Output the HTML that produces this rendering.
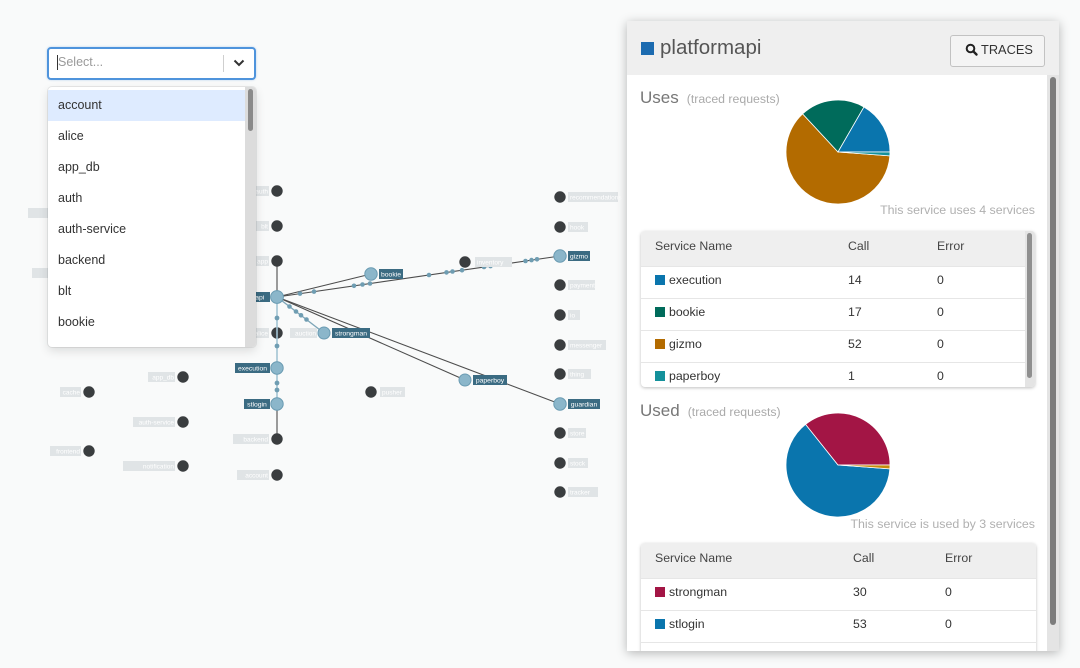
<!DOCTYPE html>
<html><head><meta charset="utf-8">
<style>
*{margin:0;padding:0;box-sizing:border-box}
body{width:1080px;height:668px;overflow:hidden;background:#f9fafa;font-family:"Liberation Sans",Arial,sans-serif;position:relative}
.a{position:absolute}
.item{position:absolute;left:0;width:197px;height:31px;line-height:31px;padding-left:10px;font-size:12.5px;color:#333}
.tbl{position:absolute;background:#fff;border-radius:4px;box-shadow:0 1px 3px rgba(0,0,0,.25);overflow:hidden}
.th{position:absolute;left:0;top:0;width:100%;height:35px;background:#efefef}
.tx{position:absolute;font-size:12.3px;color:#333;white-space:nowrap}
.row{position:absolute;left:0;width:100%;height:32px;border-top:1px solid #e6e6e6}
.sw{display:inline-block;width:10px;height:10px;vertical-align:-1px;margin-right:4px}
</style></head><body>

<svg class="a" style="left:0;top:0" width="1080" height="668" xmlns="http://www.w3.org/2000/svg">
  <!-- edges -->
  <g stroke="#4d4d4d" stroke-width="1.1" fill="none">
    <line x1="277" y1="261" x2="277" y2="297"/>
    <line x1="277" y1="404" x2="277" y2="439"/>
    <line x1="277" y1="297" x2="371" y2="274"/>
    <line x1="277" y1="297" x2="560" y2="256"/>
    <line x1="277" y1="297" x2="465" y2="380"/>
    <line x1="277" y1="297" x2="560" y2="404"/>
  </g>
  <line x1="277" y1="297" x2="324" y2="333" stroke="#7ea6b8" stroke-width="1.4"/>
  <!-- dark nodes -->
  <g fill="#3a3d3f">
    <circle cx="277" cy="191" r="5.7"/><circle cx="277" cy="226" r="5.7"/><circle cx="277" cy="261" r="5.7"/>
    <circle cx="277" cy="333" r="5.7"/><circle cx="277" cy="439" r="5.7"/><circle cx="277" cy="475" r="5.7"/>
    <circle cx="183" cy="377" r="5.7"/><circle cx="183" cy="422" r="5.7"/><circle cx="183" cy="466" r="5.7"/>
    <circle cx="89" cy="392" r="5.7"/><circle cx="89" cy="451" r="5.7"/>
    <circle cx="465" cy="262" r="5.7"/><circle cx="371" cy="392" r="5.7"/>
    <circle cx="560" cy="197" r="5.7"/><circle cx="560" cy="227" r="5.7"/><circle cx="560" cy="285" r="5.7"/>
    <circle cx="560" cy="315" r="5.7"/><circle cx="560" cy="345" r="5.7"/><circle cx="560" cy="374" r="5.7"/>
    <circle cx="560" cy="433" r="5.7"/><circle cx="560" cy="463" r="5.7"/><circle cx="560" cy="492" r="5.7"/>
  </g>
  <line x1="277" y1="297" x2="277" y2="404" stroke="#a3c4d3" stroke-width="1.6"/>
  <!-- small dots -->
  <g fill="#6f9db2">
    <circle cx="277" cy="318" r="2.4"/><circle cx="277" cy="346" r="2.4"/><circle cx="277" cy="383" r="2.4"/><circle cx="277" cy="390" r="2.4"/>
    <circle cx="300" cy="293.6" r="2.3"/><circle cx="314" cy="291.6" r="2.3"/><circle cx="354" cy="285.8" r="2.3"/><circle cx="362.5" cy="284.5" r="2.3"/><circle cx="370" cy="283.5" r="2.3"/>
    <circle cx="429" cy="275" r="2.3"/><circle cx="446.5" cy="272.4" r="2.3"/><circle cx="452.5" cy="271.5" r="2.3"/><circle cx="462" cy="270.2" r="2.3"/>
    <circle cx="484" cy="267" r="2.3"/><circle cx="490.5" cy="266.1" r="2.3"/><circle cx="507" cy="263.7" r="2.3"/><circle cx="525.5" cy="261" r="2.3"/><circle cx="531.5" cy="260.1" r="2.3"/><circle cx="537" cy="259.3" r="2.3"/>
    <circle cx="289.5" cy="306.5" r="2.3"/><circle cx="296" cy="311.5" r="2.3"/><circle cx="301" cy="315.3" r="2.3"/><circle cx="306.5" cy="319.5" r="2.3"/>
  </g>
  <!-- blue nodes -->
  <g fill="#8bb6ca" stroke="#6a9bb2" stroke-width="1">
    <circle cx="277" cy="297" r="6.4"/><circle cx="277" cy="368" r="6.2"/><circle cx="277" cy="404" r="6.2"/>
    <circle cx="324" cy="333" r="6"/><circle cx="371" cy="274" r="6.2"/><circle cx="465" cy="380" r="6"/>
    <circle cx="560" cy="256" r="6.2"/><circle cx="560" cy="404" r="6.2"/>
  </g>
  <!-- light labels -->
  <g fill="#e0e4e6">
    <rect x="245" y="186" width="24" height="10"/><rect x="245" y="221" width="24" height="10"/><rect x="245" y="256" width="24" height="10"/>
    <rect x="245" y="328" width="24" height="10"/><rect x="233" y="434" width="36" height="10"/><rect x="237" y="470" width="32" height="10"/>
    <rect x="148" y="372" width="27" height="10"/><rect x="133" y="417" width="42" height="10"/><rect x="123" y="461" width="52" height="10"/>
    <rect x="60" y="387" width="21" height="10"/><rect x="50" y="446" width="31" height="10"/>
    <rect x="28" y="208" width="28" height="10"/><rect x="32" y="268" width="24" height="10"/>
    <rect x="290" y="328" width="27" height="10"/>
    <rect x="475" y="257" width="37" height="10"/><rect x="380" y="387" width="25" height="10"/>
    <rect x="568" y="192" width="50" height="10"/><rect x="568" y="222" width="20" height="10"/><rect x="568" y="280" width="27" height="10"/>
    <rect x="568" y="310" width="12" height="10"/><rect x="568" y="340" width="38" height="10"/><rect x="568" y="369" width="23" height="10"/>
    <rect x="568" y="428" width="18" height="10"/><rect x="568" y="458" width="20" height="10"/><rect x="568" y="487" width="30" height="10"/>
  </g>
  <g fill="#ffffff" font-family="Liberation Sans, sans-serif" font-size="6.5" text-anchor="end">
    <text x="268" y="193.5">auth</text><text x="268" y="228.5">blt</text><text x="268" y="263.5">app</text>
    <text x="268" y="335.5">alice</text><text x="268" y="441.5">backend</text><text x="268" y="477.5">account</text>
    <text x="174" y="379.5">app_db</text><text x="174" y="424.5">auth-service</text><text x="174" y="468.5">notification</text>
    <text x="80" y="394.5">cache</text><text x="80" y="453.5">frontend</text>
    <text x="316" y="335.5">auction</text>
  </g>
  <g fill="#ffffff" font-family="Liberation Sans, sans-serif" font-size="6.5">
    <text x="477" y="264.5">inventory</text><text x="382" y="394.5">pusher</text>
    <text x="570" y="199.5">recommendations</text><text x="570" y="229.5">hook</text><text x="570" y="287.5">payment</text>
    <text x="570" y="317.5">io</text><text x="570" y="347.5">messenger</text><text x="570" y="376.5">thing</text>
    <text x="570" y="435.5">store</text><text x="570" y="465.5">stock</text><text x="570" y="494.5">tracker</text>
  </g>
  <!-- dark labels -->
  <g fill="#3b6b82">
    <rect x="225" y="292" width="45" height="10"/><rect x="235" y="363" width="35" height="10"/><rect x="244" y="399" width="26" height="10"/>
    <rect x="332" y="328" width="38" height="10"/><rect x="379" y="269" width="24" height="10"/><rect x="473" y="375" width="34" height="10"/>
    <rect x="568" y="251" width="22" height="10"/><rect x="568" y="399" width="32" height="10"/>
  </g>
  <g fill="#ffffff" font-family="Liberation Sans, sans-serif" font-size="6.8" text-anchor="middle">
    <text x="247.5" y="299.5">platformapi</text><text x="252.5" y="370.5">execution</text><text x="257" y="406.5">stlogin</text>
    <text x="351" y="335.5">strongman</text><text x="391" y="276.5">bookie</text><text x="490" y="382.5">paperboy</text>
    <text x="579" y="258.5">gizmo</text><text x="584" y="406.5">guardian</text>
  </g>
</svg>

<!-- dropdown -->
<div class="a" style="left:47px;top:47px;width:209px;height:33px;background:#fff;border:2px solid #4f94dc;border-radius:4px;box-shadow:0 0 2px rgba(79,148,220,.4)"></div>
<div class="a" style="left:57px;top:55px;width:1px;height:15px;background:#333"></div>
<div class="a" style="left:58px;top:54px;font-size:12.5px;line-height:16px;color:#9a9a9a">Select...</div>
<div class="a" style="left:223px;top:55px;width:1px;height:17px;background:#cfcfcf"></div>
<svg class="a" style="left:232px;top:57px" width="14" height="12"><polyline points="2.5,3.5 7,8 11.5,3.5" fill="none" stroke="#333" stroke-width="2"/></svg>

<div class="a" style="left:48px;top:87px;width:208px;height:260px;background:#fff;border-radius:4px;box-shadow:0 0 0 1px rgba(0,0,0,.07),0 4px 10px rgba(0,0,0,.12);overflow:hidden">
  <div class="item" style="top:3px;background:#deebff">account</div>
  <div class="item" style="top:34px">alice</div>
  <div class="item" style="top:65px">app_db</div>
  <div class="item" style="top:96px">auth</div>
  <div class="item" style="top:127px">auth-service</div>
  <div class="item" style="top:158px">backend</div>
  <div class="item" style="top:189px">blt</div>
  <div class="item" style="top:220px">bookie</div>
  <div class="a" style="left:197px;top:0;width:11px;height:260px;background:#dcdcdc"></div>
  <div class="a" style="left:200px;top:2px;width:5px;height:42px;background:#8a8a8a;border-radius:3px"></div>
</div>

<!-- right card -->
<div class="a" style="left:627px;top:21px;width:432px;height:630px;background:#fff;box-shadow:0 2px 10px rgba(0,0,0,.28);overflow:hidden">
  <div class="a" style="left:0;top:0;width:432px;height:54px;background:#efefef"></div>
  <div class="a" style="left:14px;top:21px;width:13px;height:13px;background:#1c6bb0"></div>
  <div class="a" style="left:33px;top:15px;font-size:20.5px;line-height:24px;color:#555">platformapi</div>
  <div class="a" style="left:323px;top:14px;width:95px;height:32px;border:1px solid #c2c2c2;border-radius:3px;background:#f4f4f4"></div>
  <svg class="a" style="left:338px;top:22px" width="14" height="14"><circle cx="5.5" cy="5.5" r="3.8" fill="none" stroke="#222" stroke-width="2"/><line x1="8.3" y1="8.3" x2="11.5" y2="11.5" stroke="#222" stroke-width="2.4" stroke-linecap="round"/></svg>
  <div class="a" style="left:354px;top:20px;font-size:12.8px;line-height:18px;color:#333">TRACES</div>

  <!-- body scrollbar -->
  <div class="a" style="left:420px;top:54px;width:12px;height:576px;background:#e4e4e4"></div>
  <div class="a" style="left:423px;top:56px;width:6px;height:548px;background:#7d7d7d;border-radius:3px"></div>

  <div class="a" style="left:13px;top:67px;line-height:20px;white-space:nowrap"><span style="font-size:17px;color:#777">Uses</span><span style="font-size:12.3px;color:#aaa;margin-left:8px">(traced requests)</span></div>
  <div class="a" style="right:24px;top:181px;font-size:12.4px;line-height:16px;color:#b0b0b0;white-space:nowrap">This service uses 4 services</div>

  <div class="a" style="left:13px;top:380px;line-height:20px;white-space:nowrap"><span style="font-size:17px;color:#777">Used</span><span style="font-size:12.3px;color:#aaa;margin-left:8px">(traced requests)</span></div>
  <div class="a" style="right:24px;top:495px;font-size:12.4px;line-height:16px;color:#b0b0b0;white-space:nowrap">This service is used by 3 services</div>

  <svg class="a" style="left:-627px;top:-21px" width="1080" height="668">
    <g stroke="#fff" stroke-width="0.8">
      <path d="M838,152 L889.85,155.89 A52,52 0 1 1 802.63,113.88 Z" fill="#b36b00"/>
      <path d="M838,152 L802.63,113.88 A52,52 0 0 1 864,106.97 Z" fill="#006b5b"/>
      <path d="M838,152 L864,106.97 A52,52 0 0 1 890,152 Z" fill="#0a75ad"/>
      <path d="M838,152 L890,152 A52,52 0 0 1 889.85,155.89 Z" fill="#14919b"/>
      <path d="M838,465 L889.85,468.89 A52,52 0 1 1 805.58,424.35 Z" fill="#0a75ad"/>
      <path d="M838,465 L805.58,424.35 A52,52 0 0 1 890,465 Z" fill="#a31545"/>
      <path d="M838,465 L890,465 A52,52 0 0 1 889.85,468.89 Z" fill="#c58a0c"/>
    </g>
  </svg>

  <!-- table 1 -->
  <div class="tbl" style="left:14px;top:210px;width:394px;height:156px">
    <div class="th"></div>
    <div class="tx" style="left:14px;top:0;line-height:31px;color:#444">Service Name</div>
    <div class="tx" style="left:207px;top:0;line-height:31px;color:#444">Call</div>
    <div class="tx" style="left:296px;top:0;line-height:31px;color:#444">Error</div>
    <div class="row" style="top:35px"></div>
    <div class="row" style="top:67px"></div>
    <div class="row" style="top:99px"></div>
    <div class="row" style="top:131px"></div>
    <div class="tx" style="left:14px;top:35px;line-height:28px"><span class="sw" style="background:#0a75ad"></span>execution</div>
    <div class="tx" style="left:207px;top:35px;line-height:28px">14</div>
    <div class="tx" style="left:296px;top:35px;line-height:28px">0</div>
    <div class="tx" style="left:14px;top:67px;line-height:28px"><span class="sw" style="background:#006b5b"></span>bookie</div>
    <div class="tx" style="left:207px;top:67px;line-height:28px">17</div>
    <div class="tx" style="left:296px;top:67px;line-height:28px">0</div>
    <div class="tx" style="left:14px;top:99px;line-height:28px"><span class="sw" style="background:#b36b00"></span>gizmo</div>
    <div class="tx" style="left:207px;top:99px;line-height:28px">52</div>
    <div class="tx" style="left:296px;top:99px;line-height:28px">0</div>
    <div class="tx" style="left:14px;top:131px;line-height:28px"><span class="sw" style="background:#14919b"></span>paperboy</div>
    <div class="tx" style="left:207px;top:131px;line-height:28px">1</div>
    <div class="tx" style="left:296px;top:131px;line-height:28px">0</div>
    <div class="a" style="left:384px;top:0;width:10px;height:156px;background:#e4e4e4"></div>
    <div class="a" style="left:386px;top:2px;width:5px;height:145px;background:#8f8f8f;border-radius:3px"></div>
  </div>

  <!-- table 2 -->
  <div class="tbl" style="left:14px;top:522px;width:395px;height:130px">
    <div class="th"></div>
    <div class="tx" style="left:14px;top:0;line-height:31px;color:#444">Service Name</div>
    <div class="tx" style="left:212px;top:0;line-height:31px;color:#444">Call</div>
    <div class="tx" style="left:304px;top:0;line-height:31px;color:#444">Error</div>
    <div class="row" style="top:35px"></div>
    <div class="row" style="top:67px"></div>
    <div class="row" style="top:99px"></div>
    <div class="tx" style="left:14px;top:35px;line-height:28px"><span class="sw" style="background:#a31545"></span>strongman</div>
    <div class="tx" style="left:212px;top:35px;line-height:28px">30</div>
    <div class="tx" style="left:304px;top:35px;line-height:28px">0</div>
    <div class="tx" style="left:14px;top:67px;line-height:28px"><span class="sw" style="background:#0a75ad"></span>stlogin</div>
    <div class="tx" style="left:212px;top:67px;line-height:28px">53</div>
    <div class="tx" style="left:304px;top:67px;line-height:28px">0</div>
  </div>
</div>

</body></html>
